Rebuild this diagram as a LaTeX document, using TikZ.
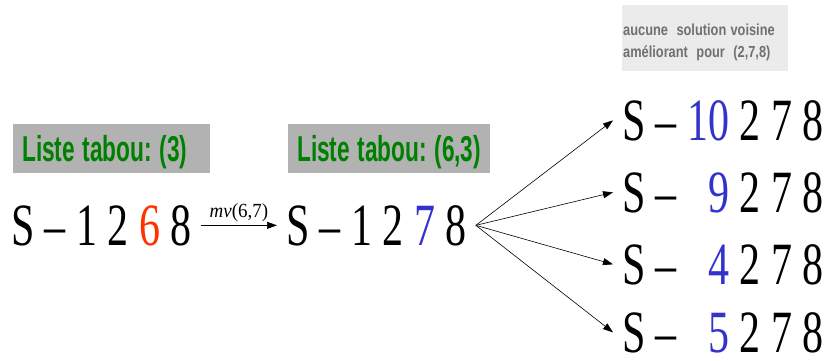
\documentclass[tikz,border=0pt]{standalone}
\usepackage{fontspec}
\setmainfont{Liberation Serif}
\newfontfamily\arialfont{Liberation Sans}
\usetikzlibrary{arrows.meta,positioning}
\frenchspacing
\definecolor{tabugreen}{RGB}{0,128,0}
\definecolor{movered}{RGB}{255,51,0}
\definecolor{moveblue}{RGB}{51,51,204}
\definecolor{notegray}{RGB}{112,112,112}
\newcommand{\squeeze}[2]{\scalebox{#1}[1]{#2}}
\tikzset{
  sol/.style={font=\fontsize{60}{60}\selectfont, inner sep=0pt, outer xsep=9pt, outer ysep=0pt, anchor=base west},
  tabu/.style={fill=black!30, text=tabugreen, font=\arialfont\bfseries\fontsize{36}{36}\selectfont,
    anchor=north west, minimum height=49pt, inner xsep=9pt, text depth=0pt, align=left},
}
\begin{document}
\begin{tikzpicture}[x=1pt, y=-1pt, >={Triangle[length=10pt,width=7pt]}]
			\useasboundingbox (0,0) rectangle (828,360);
			%\draw[help lines, color=gray!30] (0,0) grid[step=50] (828,360);
			\node[tabu, text width=179pt] (tabu0) at (13,124) {\squeeze{0.63}{Liste tabou: (3)}};
			\node[tabu, text width=184pt] (tabu1) at (288,124) {\squeeze{0.63}{Liste tabou: (6,3)}};
			\node[fill=black!8, text=notegray, font=\arialfont\bfseries\fontsize{16}{22}\selectfont,
				anchor=north west, minimum height=66pt, text width=164pt, inner xsep=1pt, align=left]
				(note) at (622,5) {\squeeze{0.8}{\rule{0pt}{19pt}aucune~ solution voisine}\\
				\squeeze{0.8}{améliorant~ pour~ (2,7,8)}};
			\node[sol] (sol0) at (2,245) {\squeeze{0.7}{S -- 1 2 \textcolor{movered}{6} 8}};
			\node[sol] (sol1) at (277,245) {\squeeze{0.7}{S -- 1 2 \textcolor{moveblue}{7} 8}};
			\node[sol] (vois1) at (613,140) {\squeeze{0.7}{S -- \textcolor{moveblue}{10} 2 7 8}};
			\node[sol] (vois2) at (613,212) {\squeeze{0.7}{S -- \phantom{1}\textcolor{moveblue}{9} 2 7 8}};
			\node[sol] (vois3) at (613,284) {\squeeze{0.7}{S -- \phantom{1}\textcolor{moveblue}{4} 2 7 8}};
			\node[sol] (vois4) at (613,352) {\squeeze{0.7}{S -- \phantom{1}\textcolor{moveblue}{5} 2 7 8}};
			\draw[->, semithick] (sol0.east) -- node[above, font=\fontsize{20}{20}\selectfont]
				{\squeeze{0.95}{\textit{mv}(6,7)}} (sol1.west);
			\foreach \v in {1,...,4}
				\draw[->, semithick] (sol1.east) -- (vois\v.west);
\end{tikzpicture}
\end{document}
